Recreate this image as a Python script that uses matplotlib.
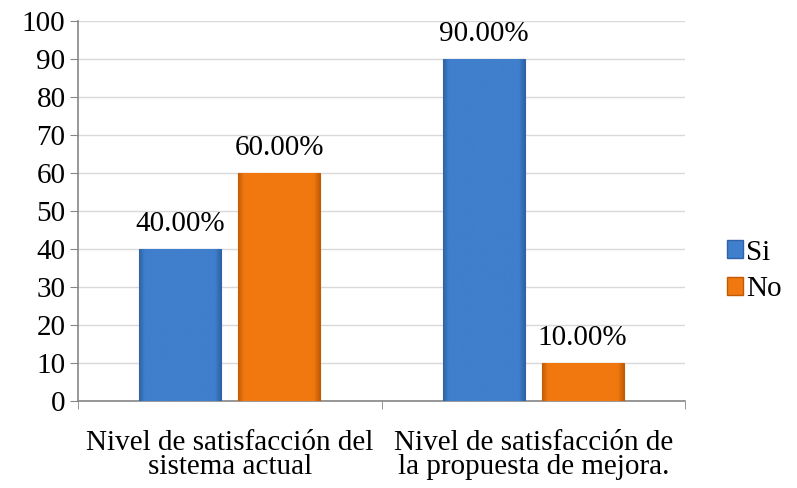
import numpy as np
import matplotlib.pyplot as plt
from matplotlib.colors import LinearSegmentedColormap

plt.rcParams['font.family'] = ['Liberation Serif', 'DejaVu Serif']

categorias = ['Nivel de satisfacción del\nsistema actual',
              'Nivel de satisfacción de\nla propuesta de mejora.']
series = ['Si', 'No']
valores_si = [40, 90]
valores_no = [60, 10]
etiquetas_si = ['40.00%', '90.00%']
etiquetas_no = ['60.00%', '10.00%']

colores = {'Si': ('#2f62a6', '#3f7fcc'), 'No': ('#c25a05', '#f0780f')}
fs = 21

fig = plt.figure(figsize=(7.97, 4.88), dpi=100, facecolor='white')
ax = fig.add_axes([0.0979, 0.1783, 0.7616, 0.7787])

x = np.arange(len(categorias))
ancho = 0.27
desp = 0.163


def barra_gradiente(ax, xc, h, nombre):
    oscuro, claro = colores[nombre]
    cmap = LinearSegmentedColormap.from_list(
        nombre, [(0, oscuro), (0.07, claro), (0.93, claro), (1, oscuro)])
    b = ax.bar(xc, h, ancho, color=claro, edgecolor=oscuro, linewidth=0.8, zorder=3)[0]
    grad = np.linspace(0, 1, 256).reshape(1, -1)
    im = ax.imshow(grad, cmap=cmap, aspect='auto', zorder=3,
                   extent=[xc - ancho / 2, xc + ancho / 2, 0, h])
    im.set_clip_path(b)
    return b


for i in range(len(categorias)):
    barra_gradiente(ax, x[i] - desp, valores_si[i], 'Si')
    barra_gradiente(ax, x[i] + desp, valores_no[i], 'No')
    ax.annotate(etiquetas_si[i], (x[i] - desp, valores_si[i]), xytext=(0, 8.5),
                textcoords='offset points', ha='center', va='bottom', fontsize=fs)
    ax.annotate(etiquetas_no[i], (x[i] + desp, valores_no[i]), xytext=(0, 8.5),
                textcoords='offset points', ha='center', va='bottom', fontsize=fs)

ax.set_xlim(-0.5, 1.5)
ax.set_ylim(0, 100)
ax.set_yticks(range(0, 101, 10))
ax.tick_params(axis='y', labelsize=fs, length=6, color='#868686', pad=3)
ax.set_xticks(x)
ax.set_xticklabels(categorias, fontsize=fs, linespacing=0.9)
ax.set_xticks([-0.5, 0.5, 1.5], minor=True)
ax.tick_params(axis='x', which='major', length=0, pad=21)
ax.tick_params(axis='x', which='minor', length=6, color='#868686')
ax.grid(axis='y', color='#d9d9d9', linewidth=1, zorder=0)
ax.set_axisbelow(True)
for s in ['top', 'right']:
    ax.spines[s].set_visible(False)
for s in ['left', 'bottom']:
    ax.spines[s].set_color('#868686')
    ax.spines[s].set_linewidth(1.2)

h_si = plt.Rectangle((0, 0), 1, 1, facecolor=colores['Si'][1], edgecolor=colores['Si'][0])
h_no = plt.Rectangle((0, 0), 1, 1, facecolor=colores['No'][1], edgecolor=colores['No'][0])
fig.legend([h_si, h_no], series, loc='center left', bbox_to_anchor=(0.879, 0.445),
           frameon=False, fontsize=fs, handlelength=0.55, handleheight=0.55,
           handletextpad=0.1, labelspacing=0.36)

fig.savefig('out.png', dpi=100)
